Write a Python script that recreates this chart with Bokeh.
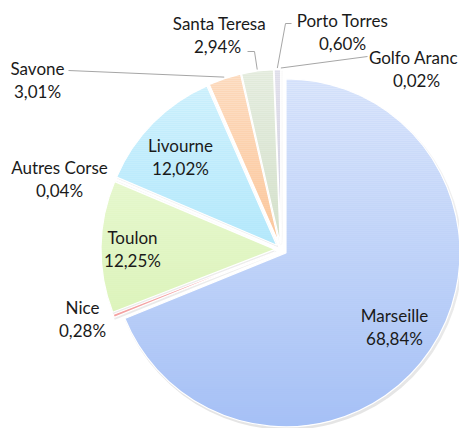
import math
from bokeh.plotting import figure
from bokeh.models import Range1d, ColumnDataSource
from bokeh.core.properties import value
from bokeh.embed import file_html
from bokeh.resources import INLINE

# ---- data ----
ports = ["Marseille", "Nice", "Toulon", "Autres Corse", "Livourne",
         "Savone", "Santa Teresa", "Porto Torres", "Golfo Aranc"]
shares = [68.84, 0.28, 12.25, 0.04, 12.02, 3.01, 2.94, 0.60, 0.02]
share_labels = ["68,84%", "0,28%", "12,25%", "0,04%", "12,02%",
                "3,01%", "2,94%", "0,60%", "0,02%"]
# base colours (a white vertical wash is laid over them to mimic the gradient)
colors = ["#a6c1f6", "#f28c8c", "#d5f2ac", "#b0b0c0", "#94dffa",
          "#faaf71", "#c2d4b5", "#bcbad3", "#b8b8c8"]

# ---- layout (pixel-like coordinates, y measured up from the bottom) ----
W, H = 459, 428
X0, Y0 = 0, 0               # where the plot sits in the picture
CX, CY = 280.5, 249         # pie centre (picture pixels)
R = 174                     # radius
EXPLODE = 6                 # explosion of every slice

# label centres (name line, picture pixels); value line is placed below
label_pos = {
    "Marseille": (394, 315),
    "Nice": (82, 307),
    "Toulon": (132, 237),
    "Autres Corse": (59, 167),
    "Livourne": (180, 145),
    "Savone": (37, 68),
    "Santa Teresa": (219, 23),
    "Porto Torres": (342, 20),
    "Golfo Aranc": (413, 57),
}
value_dx = {"Santa Teresa": -2, "Golfo Aranc": 3}

def Y(img_y):
    return 428 - img_y

p = figure(width=W, height=H, output_backend="svg", toolbar_location=None,
           x_range=Range1d(X0, X0 + W), y_range=Range1d(Y(Y0 + H), Y(Y0)),
           x_axis_type=None, y_axis_type=None,
           min_border=0, outline_line_color=None)
p.grid.visible = False
p.background_fill_color = "white"

total = sum(shares)
cum = 0.0
xs, ys, sa, ea, mids = [], [], [], [], []
for s in shares:
    t0 = cum / total * 360.0
    t1 = (cum + s) / total * 360.0
    tm = (t0 + t1) / 2
    cum += s
    dx = EXPLODE * math.sin(math.radians(tm))
    dy = EXPLODE * math.cos(math.radians(tm))
    xs.append(CX + dx)
    ys.append(Y(CY) + dy)
    sa.append(math.radians(90 - t0))
    ea.append(math.radians(90 - t1))
    mids.append(tm)

src = ColumnDataSource(dict(x=xs, y=ys, sa=sa, ea=ea, color=colors,
                            xsh=[x + 1.5 for x in xs], ysh=[y - 2 for y in ys]))

# soft shadow
p.wedge(x="xsh", y="ysh", radius=R + 1, start_angle="sa", end_angle="ea",
        direction="clock", fill_color="#000000", fill_alpha=0.10,
        line_color=None, source=src)
p.wedge(x="x", y="y", radius=R, start_angle="sa", end_angle="ea",
        direction="clock", fill_color="color", line_color="white",
        line_width=1.2, source=src)

# white vertical wash: lighter at the top, none at the bottom of the pie
top_img = CY - R - EXPLODE - 10
bot_img = CY + R + 4
step = 2
bands_b, bands_t, alphas = [], [], []
yy = top_img
while yy < bot_img:
    a = 0.6 * (bot_img - (yy + step / 2)) / (bot_img - (CY - R + 8))
    bands_t.append(Y(yy))
    bands_b.append(Y(yy + step))
    alphas.append(max(0.0, min(0.65, a)))
    yy += step
p.quad(left=CX - R - 20, right=W, bottom=bands_b, top=bands_t,
       fill_color="white", fill_alpha=alphas, line_color=None)

# leader lines for the small top slices
def arc_point(i, extra=1.5):
    tm = math.radians(mids[i])
    return (xs[i] + (R + extra) * math.sin(tm), ys[i] + (R + extra) * math.cos(tm))

leaders = {
    "Savone": [(68, Y(70))],
    "Santa Teresa": [(247, Y(51)), (254, Y(51))],
    "Porto Torres": [(291, Y(23)), (285, Y(23))],
    "Golfo Aranc": [(367, Y(56))],
}
for name, pts in leaders.items():
    i = ports.index(name)
    end = arc_point(i)
    lx = [pt[0] for pt in pts] + [end[0]]
    ly = [pt[1] for pt in pts] + [end[1]]
    p.line(lx, ly, line_color="#a6a6a6", line_width=1)

# labels
names_x, names_y, vals_x, vals_y = [], [], [], []
for i, name in enumerate(ports):
    lx, ly = label_pos[name]
    names_x.append(lx)
    names_y.append(Y(ly))
    vals_x.append(lx + value_dx.get(name, 0))
    vals_y.append(Y(ly + 23))

font = value("Lato")
p.text(names_x, names_y, text=ports, text_align="center", text_baseline="middle",
       text_font=font, text_font_size="17px", text_color="#1a1a1a")
p.text(vals_x, vals_y, text=share_labels, text_align="center", text_baseline="middle",
       text_font=font, text_font_size="17px", text_color="#1a1a1a")

open("out.html", "w").write(file_html(p, INLINE))
